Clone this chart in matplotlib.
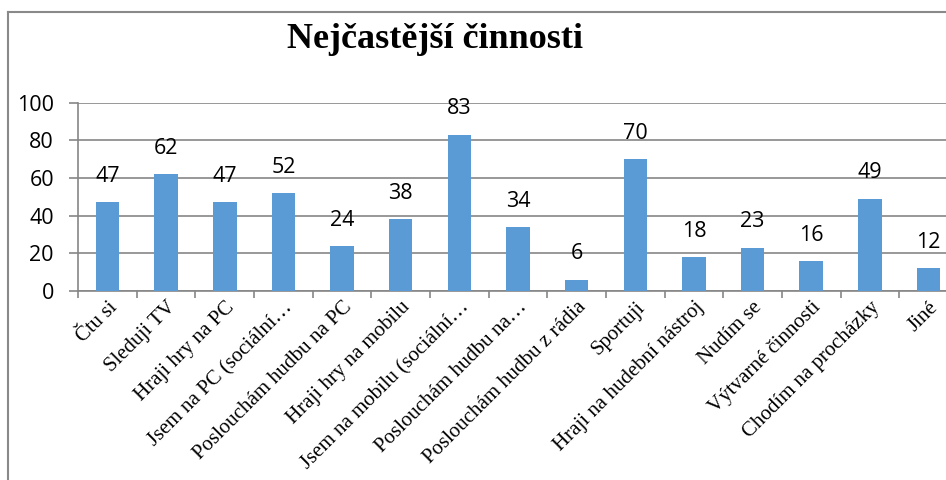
import matplotlib
matplotlib.use("Agg")
import matplotlib.pyplot as plt
from matplotlib.lines import Line2D
import numpy as np

title = "Nejčastější činnosti"
categories = ["Čtu si", "Sleduji TV", "Hraji hry na PC", "Jsem na PC (sociální…",
              "Poslouchám hudbu na PC", "Hraji hry na mobilu", "Jsem na mobilu (sociální…",
              "Poslouchám hudbu na…", "Poslouchám hudbu z rádia", "Sportuji",
              "Hraji na hudební nástroj", "Nudím se", "Výtvarné činnosti",
              "Chodím na procházky", "Jiné"]
values = [47, 62, 47, 52, 24, 38, 83, 34, 6, 70, 18, 23, 16, 49, 12]
yticks = [0, 20, 40, 60, 80, 100]

W, H = 946, 480
fig = plt.figure(figsize=(W/100, H/100), dpi=100)
ax = fig.add_axes([78.2/W, (H-291)/H, (957.8-78.2)/W, (291-102.7)/H])

x = np.arange(len(categories))
bars = ax.bar(x, values, width=0.4, color="#5B9BD5", zorder=3)
ax.set_xlim(-0.5, len(categories)-0.5)
ax.set_ylim(0, 100)

numfont = "Open Sans"
for xi, v in zip(x, values):
    ax.annotate(str(v), (xi, v), xytext=(0, 11), textcoords="offset points",
                ha="center", va="bottom", fontsize=15.5, family=numfont, color="black")

ax.set_yticks(yticks)
ax.set_yticklabels([str(t) for t in yticks], fontsize=15.5, family=numfont)
ax.yaxis.grid(True, color="#868686", linewidth=1.2, zorder=0)
ax.tick_params(axis="y", length=6.5, width=1.2, color="#868686", pad=11)

ax.set_xticks(x)
ax.set_xticklabels(categories, rotation=45, ha="right", va="top",
                   rotation_mode="anchor", fontsize=15, family="Liberation Serif")
ax.tick_params(axis="x", which="major", length=0, pad=5)
ax.set_xticks(np.arange(len(categories)+1)-0.5, minor=True)
ax.tick_params(axis="x", which="minor", length=5, width=1.2, color="#868686")

for s in ["top", "right"]:
    ax.spines[s].set_visible(False)
for s in ["left", "bottom"]:
    ax.spines[s].set_color("#868686")
    ax.spines[s].set_linewidth(1.2)

fig.text(435/W, 1-40/H, title, ha="center", va="center", fontsize=26,
         fontweight="bold", family="Liberation Serif")

fig.add_artist(Line2D([8/W, 8/W], [0, 1-12/H], color="#898989", linewidth=1.5))
fig.add_artist(Line2D([8/W, 1], [1-12/H, 1-12/H], color="#898989", linewidth=1.5))

fig.savefig("out.png", dpi=100)
